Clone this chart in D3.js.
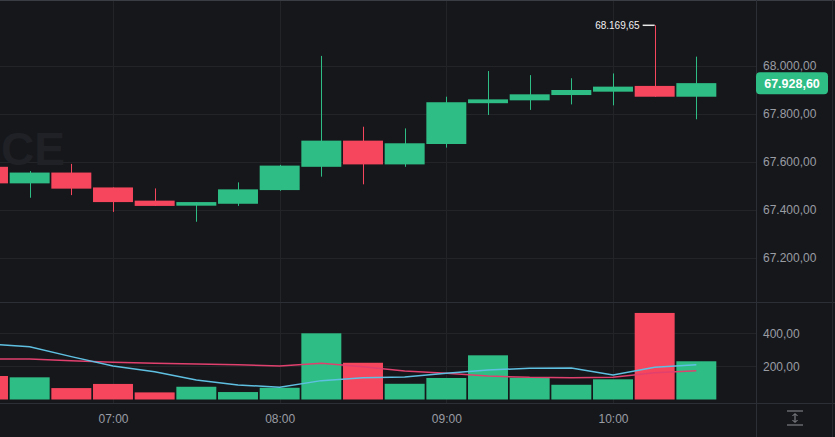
<html>
<head>
<meta charset="utf-8">
<title>Candles</title>
<script src="https://d3js.org/d3.v7.min.js"></script>
<style>
  body { margin: 0; background: #16171b; }
  svg { display: block; font-family: "Liberation Sans", Arial, sans-serif; }
</style>
</head>
<body>
<svg id="chart" width="835" height="437"></svg>
<script>
// 15 minute candles, first one starts just left of the view
const times = ["06:15","06:30","06:45","07:00","07:15","07:30","07:45","08:00","08:15",
               "08:30","08:45","09:00","09:15","09:30","09:45","10:00","10:15","10:30"];
const opens  = [67580, 67511, 67556, 67494, 67439, 67418, 67426, 67483, 67580,
                67689, 67590, 67675, 67845, 67857, 67879, 67893, 67917, 67872];
const highs  = [67600, 67562, 67592, 67494, 67490, 67433, 67515, 67588, 68042,
                67747, 67740, 67872, 67979, 67962, 67949, 67969, 68169.65, 68039];
const lows   = [67500, 67451, 67462, 67392, 67417, 67351, 67417, 67480, 67539,
                67507, 67580, 67660, 67796, 67817, 67840, 67836, 67872, 67778];
const closes = [67511, 67556, 67489, 67433, 67417, 67433, 67486, 67585, 67689,
                67590, 67678, 67849, 67861, 67882, 67900, 67914, 67872, 67928.60];
const volumes = [142, 134, 69, 94, 43, 77, 45, 71, 400, 222, 95, 130, 267, 132, 89, 122, 523, 231];
const maFast = [335, 319, 259, 202, 168, 118, 88, 74, 114, 132, 136, 158, 178, 189, 190, 148, 195, 210];
const maSlow = [245, 245, 234, 225, 219, 214, 210, 202, 219, 198, 172, 158, 142, 134, 132, 134, 162, 174];
const priceTicks = [67200, 67400, 67600, 67800, 68000];
const volumeTicks = [200, 400];
const timeTicks = ["07:00", "08:00", "09:00", "10:00"];

const up = "#2ebd85", down = "#f6465d", grid = "#222428", sep = "#2c2f35", label = "#9a9da4";

const parse = d3.timeParse("%H:%M");
const data = times.map((t, i) => ({
  t: parse(t), o: opens[i], h: highs[i], l: lows[i], c: closes[i],
  v: volumes[i], m1: maFast[i], m2: maSlow[i]
}));

const svg = d3.select("#chart");
const W = 835, H = 437, plotRight = 756, priceBottom = 302, volBottom = 403;

const x = d3.scaleTime().domain([parse("07:00"), parse("10:00")]).range([113, 613]);
const y = d3.scaleLinear().domain([67200, 68000]).range([258, 66]);
const yv = d3.scaleLinear().domain([0, 400]).range([399.5, 333.3]);
const step = x(parse("07:15")) - x(parse("07:00"));
const bw = step - 1.7;

const loc = d3.formatLocale({decimal: ",", thousands: ".", grouping: [3], currency: ["", ""]});
const fmt = loc.format(",.2f");

// panes clip
svg.append("clipPath").attr("id", "pclip").append("rect")
  .attr("x", 0).attr("y", 0).attr("width", plotRight).attr("height", volBottom);

// grid
const g = svg.append("g").attr("clip-path", "url(#pclip)");
g.selectAll(".hg").data(priceTicks).join("line")
  .attr("x1", 0).attr("x2", plotRight).attr("y1", d => Math.round(y(d)) + 0.5).attr("y2", d => Math.round(y(d)) + 0.5)
  .attr("stroke", grid);
g.selectAll(".vg").data(volumeTicks).join("line")
  .attr("x1", 0).attr("x2", plotRight).attr("y1", d => Math.round(yv(d)) + 0.5).attr("y2", d => Math.round(yv(d)) + 0.5)
  .attr("stroke", grid);
g.selectAll(".tg").data(timeTicks).join("line")
  .attr("x1", d => Math.round(x(parse(d))) + 0.5).attr("x2", d => Math.round(x(parse(d))) + 0.5)
  .attr("y1", 0).attr("y2", volBottom)
  .attr("stroke", grid);

// watermark
svg.append("text").attr("x", 1).attr("y", 165)
  .attr("font-size", 46).attr("font-weight", "bold").attr("fill", "#1f2126")
  .text("CE");

// volume bars
g.selectAll(".vol").data(data).join("rect")
  .attr("x", d => x(d.t) - bw / 2).attr("width", bw)
  .attr("y", d => yv(d.v)).attr("height", d => yv(0) - yv(d.v))
  .attr("fill", d => d.c >= d.o ? up : down);

// volume MAs
const line = key => d3.line().x(d => x(d.t)).y(d => yv(d[key])).curve(d3.curveLinear);
g.append("path").datum(data).attr("d", line("m2")).attr("fill", "none").attr("stroke", "#e0406e").attr("stroke-width", 1.5);
g.append("path").datum(data).attr("d", line("m1")).attr("fill", "none").attr("stroke", "#5fc0e2").attr("stroke-width", 1.5);

// candles
const cg = g.append("g");
cg.selectAll(".wick").data(data).join("line")
  .attr("x1", d => Math.round(x(d.t)) + 0.5).attr("x2", d => Math.round(x(d.t)) + 0.5)
  .attr("y1", d => y(d.h)).attr("y2", d => y(d.l))
  .attr("stroke", d => d.c >= d.o ? up : down).attr("stroke-width", 1);
cg.selectAll(".body").data(data).join("rect")
  .attr("x", d => x(d.t) - bw / 2).attr("width", bw)
  .attr("y", d => y(Math.max(d.o, d.c)))
  .attr("height", d => Math.max(1, Math.abs(y(d.o) - y(d.c))))
  .attr("fill", d => d.c >= d.o ? up : down);

// max high marker
const hi = data.reduce((a, b) => b.h > a.h ? b : a);
svg.append("line").attr("x1", x(hi.t) - 12).attr("x2", x(hi.t)).attr("y1", y(hi.h)).attr("y2", y(hi.h))
  .attr("stroke", "#e8e8e8").attr("stroke-width", 1.5);
svg.append("text").attr("x", x(hi.t) - 15).attr("y", y(hi.h)).attr("dy", "0.35em")
  .attr("text-anchor", "end").attr("font-size", 10).attr("fill", "#f0f0f0").text(fmt(hi.h));

// separators
svg.append("line").attr("x1", 0).attr("x2", W).attr("y1", 0.5).attr("y2", 0.5).attr("stroke", "#3a3d43");
svg.append("line").attr("x1", 0).attr("x2", W).attr("y1", priceBottom + 0.5).attr("y2", priceBottom + 0.5).attr("stroke", sep);
svg.append("line").attr("x1", 0).attr("x2", W).attr("y1", volBottom + 0.5).attr("y2", volBottom + 0.5).attr("stroke", sep);
svg.append("line").attr("x1", plotRight + 0.5).attr("x2", plotRight + 0.5).attr("y1", 0).attr("y2", H).attr("stroke", sep);
svg.append("line").attr("x1", W - 2.5).attr("x2", W - 2.5).attr("y1", 0).attr("y2", H).attr("stroke", "#26282d");

// price axis
const pa = svg.append("g").attr("transform", `translate(${plotRight + 7},0)`)
  .call(d3.axisRight(y).tickValues(priceTicks).tickFormat(fmt).tickSize(0).tickPadding(0));
pa.select(".domain").remove();
pa.selectAll("text").attr("font-size", 12).attr("fill", label).attr("font-family", "Liberation Sans, Arial, sans-serif");

// volume axis
const va = svg.append("g").attr("transform", `translate(${plotRight + 7},0)`)
  .call(d3.axisRight(yv).tickValues(volumeTicks).tickFormat(fmt).tickSize(0).tickPadding(0));
va.select(".domain").remove();
va.selectAll("text").attr("font-size", 12).attr("fill", label).attr("font-family", "Liberation Sans, Arial, sans-serif");

// time axis
const ta = svg.append("g").attr("transform", `translate(0,${volBottom})`)
  .call(d3.axisBottom(x).tickValues(timeTicks.map(parse)).tickFormat(d3.timeFormat("%H:%M")).tickSize(0).tickPadding(11));
ta.select(".domain").remove();
ta.selectAll("text").attr("font-size", 12).attr("fill", label).attr("font-family", "Liberation Sans, Arial, sans-serif");

// last price tag
const last = data[data.length - 1];
svg.append("rect").attr("x", plotRight).attr("y", y(last.c) - 11).attr("width", 72).attr("height", 22)
  .attr("rx", 4).attr("fill", up);
svg.append("text").attr("x", plotRight + 36).attr("y", y(last.c)).attr("dy", "0.35em")
  .attr("text-anchor", "middle").attr("font-size", 12.5).attr("font-weight", "bold").attr("fill", "#ffffff")
  .text(fmt(last.c));

// auto-scale icon
const ic = svg.append("g").attr("transform", "translate(795,418)").attr("stroke", "#8d9096").attr("fill", "none");
ic.append("line").attr("x1", -8).attr("x2", 8).attr("y1", -7).attr("y2", -7);
ic.append("line").attr("x1", -8).attr("x2", 8).attr("y1", 7).attr("y2", 7);
ic.append("line").attr("x1", 0).attr("x2", 0).attr("y1", -4).attr("y2", 4);
ic.append("path").attr("d", "M-2.5,-2 L0,-4.5 L2.5,-2 M-2.5,2 L0,4.5 L2.5,2");
</script>
</body>
</html>
